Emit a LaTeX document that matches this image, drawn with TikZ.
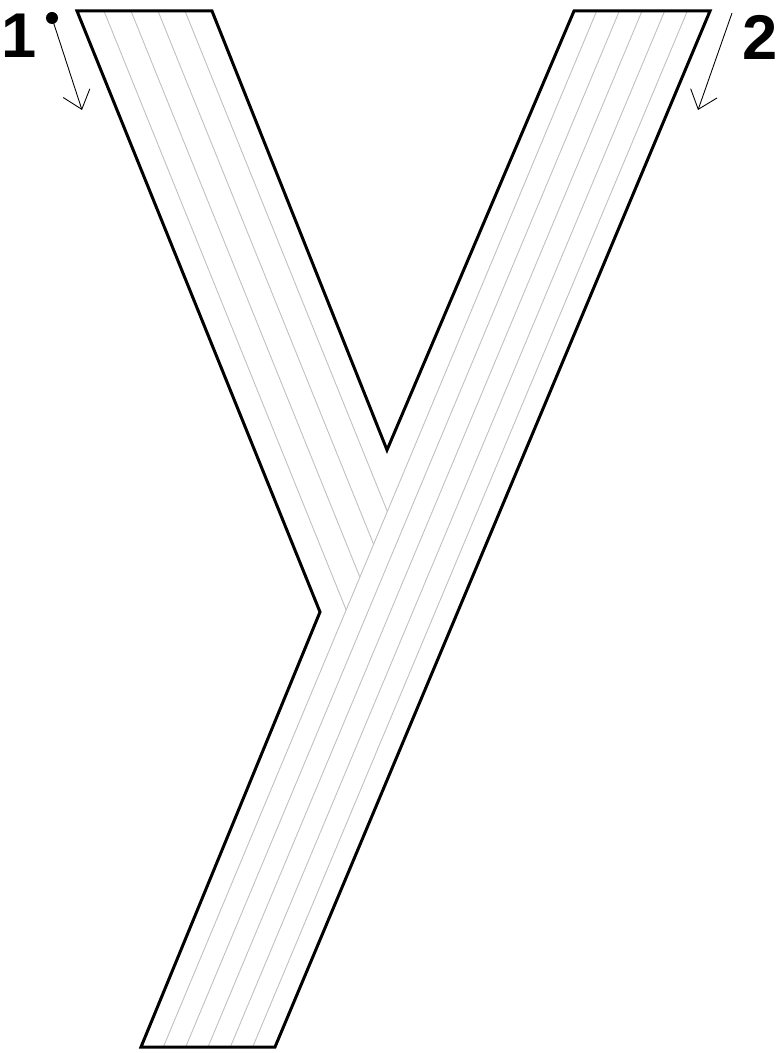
\documentclass[tikz,border=0pt]{standalone}
\usepackage{fontspec}
\newfontfamily\labelfont{Liberation Sans}
\usetikzlibrary{calc,arrows.meta,intersections}

\tikzset{
    outline/.style={draw=black, line width=1.7pt, line join=miter},
    strand/.style={draw=gray!50, line width=0.5pt},
    flow/.style={draw=black, line width=0.5pt, -{Straight Barb[length=3.4mm, width=5.6mm]}},
    numlabel/.style={font=\labelfont\bfseries\fontsize{36}{36}\selectfont, inner sep=0pt}
}

\begin{document}
\begin{tikzpicture}[x=0.02cm, y=-0.02cm]
    \useasboundingbox (0,0) rectangle (782,1053);

    % corners of the two bands
    \coordinate (A) at (77,11);    % left arm, top left
    \coordinate (C) at (212,11);   % left arm, top right
    \coordinate (N) at (387,450);  % notch
    \coordinate (B) at (320,612);  % bump
    \coordinate (D) at (574,11);   % right band, top left
    \coordinate (F) at (710,11);   % right band, top right
    \coordinate (G) at (275,1047); % foot, right
    \coordinate (E) at (141,1047); % foot, left

    % Right band: strands run straight through
    \foreach \j in {1,...,5} {
        \coordinate (rt\j) at ($(D)!\j/6!(F)$);
        \coordinate (rb\j) at ($(E)!\j/6!(G)$);
        \draw[strand] (rt\j) -- (rb\j);
    }
    \path[name path=firstline] (rt1) -- (rb1);

    % Left arm: strands end on the first strand of the right band
    \foreach \i in {1,...,4} {
        \coordinate (lt\i) at ($(A)!\i/5!(C)$);
        \path[name path=armline] (lt\i) -- ++(486,1202);
        \path[name intersections={of=armline and firstline, by=lm\i}];
        \draw[strand] (lt\i) -- (lm\i);
    }

    % Outline
    \draw[outline] (A) -- (C) -- (N) -- (D) -- (F) -- (G) -- (E) -- (B) -- cycle;

    % Entry 1
    \node[numlabel] (one) at (19,36) {1};
    \coordinate (s1) at (52,18);
    \coordinate (e1) at (82,110);
    \fill (s1) circle (6);
    \draw[flow] (s1) -- (e1);

    % Entry 2
    \node[numlabel] (two) at (760,37) {2};
    \coordinate (s2) at (732,13);
    \coordinate (e2) at (698,110);
    \draw[flow] (s2) -- (e2);
\end{tikzpicture}
\end{document}
